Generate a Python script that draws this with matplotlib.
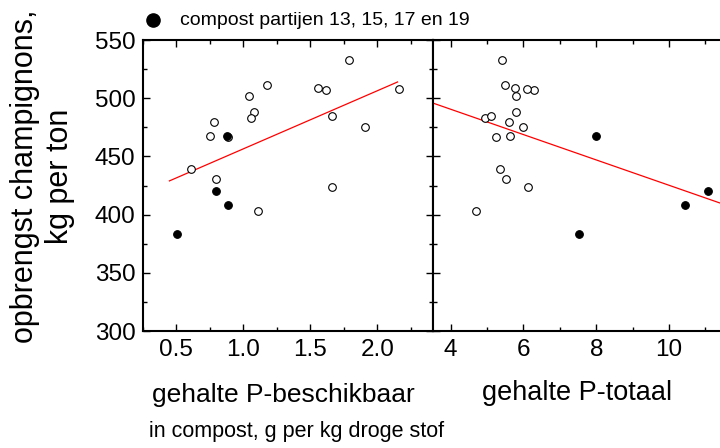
import numpy as np
import matplotlib
matplotlib.use("Agg")
import matplotlib.pyplot as plt
from matplotlib.ticker import MultipleLocator, FormatStrFormatter

plt.rcParams['font.family'] = ['Liberation Sans', 'DejaVu Sans']

# opbrengst (kg per ton) per compostpartij, open = overige partijen
open_yield = [533, 511, 509, 507, 508, 502, 488, 483, 485, 480, 468, 467, 475, 439, 431, 424, 403]
open_p_besch = [1.79, 1.18, 1.56, 1.62, 2.16, 1.04, 1.08, 1.06, 1.66, 0.78, 0.75, 0.89, 1.91, 0.61, 0.80, 1.66, 1.11]
open_p_tot = [5.41, 5.49, 5.77, 6.28, 6.09, 5.79, 5.79, 4.95, 5.11, 5.60, 5.62, 5.25, 5.99, 5.35, 5.53, 6.13, 4.70]

# compost partijen 13, 15, 17 en 19
fill_yield = [468, 420, 408, 383]
fill_p_besch = [0.88, 0.80, 0.89, 0.51]
fill_p_tot = [8.00, 11.06, 10.44, 7.52]

fit_besch_x = [0.45, 2.15]
fit_besch_y = [429, 514]
fit_tot_x = [3.5, 11.4]
fit_tot_y = [496, 410]

fig = plt.figure(figsize=(7.2, 4.48), dpi=100)
ax1 = fig.add_axes([0.198, 0.261, 0.4027, 0.6496])
ax2 = fig.add_axes([0.6007, 0.261, 0.3993, 0.6496])

ms = 5.5
for ax, xo, xf, fx, fy in [(ax1, open_p_besch, fill_p_besch, fit_besch_x, fit_besch_y),
                           (ax2, open_p_tot, fill_p_tot, fit_tot_x, fit_tot_y)]:
    ax.plot(fx, fy, color="red", linewidth=0.9, zorder=2)
    ax.plot(xo, open_yield, "o", ms=ms, mfc="white", mec="black", mew=0.8, zorder=3)
    ax.plot(xf, fill_yield, "o", ms=ms, mfc="black", mec="black", mew=0.8, zorder=4)
    ax.set_ylim(300, 550)
    ax.yaxis.set_major_locator(MultipleLocator(50))
    ax.yaxis.set_minor_locator(MultipleLocator(25))
    for s in ax.spines.values():
        s.set_linewidth(1.5)
    ax.tick_params(which="both", direction="in", top=True, right=True, labelsize=17.5)
    ax.tick_params(which="major", length=5, width=1)
    ax.tick_params(which="minor", length=3, width=1)
    ax.tick_params(axis="x", pad=6)
    ax.tick_params(axis="y", pad=5)

ax1.set_xlim(0.25, 2.41)
ax1.xaxis.set_major_locator(MultipleLocator(0.5))
ax1.xaxis.set_minor_locator(MultipleLocator(0.25))
ax1.xaxis.set_major_formatter(FormatStrFormatter("%.1f"))

ax2.set_xlim(3.5, 11.4)
ax2.xaxis.set_major_locator(MultipleLocator(2))
ax2.xaxis.set_minor_locator(MultipleLocator(1))
ax2.tick_params(labelleft=False, right=False, which="both")
ax2.spines["right"].set_visible(False)

# y-as titel
fig.text(0.0590, 0.606, "opbrengst champignons,\nkg per ton", fontsize=22, rotation=90,
         ha="center", va="center", linespacing=1.25, multialignment="center")

fig.text(0.393, 0.118, "gehalte P-beschikbaar", fontsize=19, ha="center", va="center")
fig.text(0.801, 0.122, "gehalte P-totaal", fontsize=19.5, ha="center", va="center")
fig.text(0.207, 0.036, "in compost, g per kg droge stof", fontsize=15.5, ha="left", va="center")

fig.lines.append(plt.Line2D([0.2125], [0.955], marker="o", ms=9.5, color="black",
                            transform=fig.transFigure, figure=fig))
fig.text(0.25, 0.955, "compost partijen 13, 15, 17 en 19", fontsize=14, ha="left", va="center")

fig.savefig("out.png", dpi=100)
